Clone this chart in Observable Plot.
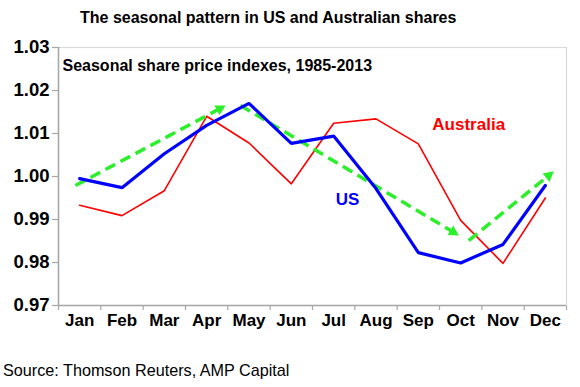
<!DOCTYPE html>
<html>
<head>
<meta charset="utf-8">
<script src="https://cdn.jsdelivr.net/npm/d3@7"></script>
<script src="https://cdn.jsdelivr.net/npm/@observablehq/plot@0.6"></script>
<style>
  html, body { margin: 0; padding: 0; background: #fff; }
  #chart { position: relative; width: 580px; height: 387px; overflow: hidden; background: #fff;
           font-family: "Liberation Sans", Arial, sans-serif; }
  #title { position: absolute; left: 80px; top: 8px; font-weight: bold; font-size: 16px;
           line-height: 20px; color: #000; white-space: nowrap; }
  #plot { position: absolute; left: 0; top: 32px; }
  #source { position: absolute; left: 3px; top: 360px; font-size: 16.2px; line-height: 20px;
            color: #000; white-space: nowrap; }
  #plot svg [aria-label^="y-axis"] text { font: bold 18.5px "Liberation Sans", Arial, sans-serif; fill: #000; }
  #plot svg [aria-label^="y-axis"] line, #plot svg [aria-label^="y-axis"] path { stroke: #a6a6a6; stroke-width: 1.2; }
  #plot svg [aria-label^="x-axis"] line, #plot svg [aria-label^="x-axis"] path { stroke: #a6a6a6; stroke-width: 1.2; }
</style>
</head>
<body>
<div id="chart">
  <div id="title">The seasonal pattern in US and Australian shares</div>
  <div id="plot"></div>
  <div id="source">Source: Thomson Reuters, AMP Capital</div>
</div>
<script>
// Seasonal share price indexes, 1985-2013 (1.00 = average month)
const months = ["Jan", "Feb", "Mar", "Apr", "May", "Jun", "Jul", "Aug", "Sep", "Oct", "Nov", "Dec"];
const usIndex = [0.9995, 0.9974, 1.0053, 1.0119, 1.0170, 1.0077, 1.0094, 0.9972, 0.9823, 0.9799, 0.9842, 0.9979];
const australiaIndex = [0.9933, 0.9909, 0.9967, 1.0140, 1.0078, 0.9983, 1.0124, 1.0134, 1.0076, 0.9898, 0.9798, 0.9950];
const yTicks = [0.97, 0.98, 0.99, 1.00, 1.01, 1.02, 1.03];

// Trend arrows (month position, index level): rise to May, fall to October, rebound to year end
const trendStartMonth = [-0.10, 3.80, 9.19];
const trendStartValue = [0.9979, 1.0165, 0.9851];
const trendEndMonth = [3.45, 8.96, 11.20];
const trendEndValue = [1.0165, 0.9863, 1.0012];

// Series name labels (month position, index level)
const seriesNames = ["Australia", "US"];
const seriesNameMonth = [9.19, 6.33];
const seriesNameValue = [1.0121, 0.99465];

const BLUE = "#0000ff", RED = "#ff0000", GREEN = "#2bef2b";

const us = months.map((m, i) => ({month: i, value: usIndex[i]}));
const australia = months.map((m, i) => ({month: i, value: australiaIndex[i]}));
const arrows = trendStartMonth.map((m, i) => ({
  x1: m, y1: trendStartValue[i], x2: trendEndMonth[i], y2: trendEndValue[i]
}));
const names = seriesNames.map((t, i) => ({text: t, month: seriesNameMonth[i], value: seriesNameValue[i], color: i === 0 ? RED : BLUE}));
const boundaries = d3.range(13).map(i => i - 0.5);

function build(links, heads) {
  return Plot.plot({
    width: 580,
    height: 320,
    marginTop: 15,
    marginBottom: 47,
    marginLeft: 58,
    marginRight: 14,
    style: {background: "white", fontFamily: "Liberation Sans, Arial, sans-serif", overflow: "visible"},
    x: {type: "linear", domain: [-0.5, 11.5], ticks: boundaries, tickFormat: () => "", tickSize: 5, label: null},
    y: {domain: [0.97, 1.03], ticks: yTicks, tickFormat: d3.format(".2f"), tickSize: 6, tickPadding: 3, label: null},
    marks: [
      Plot.frame({stroke: "#d9d9d9", strokeWidth: 1.2}),
      Plot.ruleX([-0.5], {stroke: "#a6a6a6", strokeWidth: 1.5}),
      Plot.ruleY([0.97], {stroke: "#a6a6a6", strokeWidth: 1.5}),
      Plot.text(months, {x: (d, i) => i, frameAnchor: "bottom", dy: 20, text: d => d,
        fontSize: 17, fontWeight: "bold", fill: "#000"}),
      Plot.text(["Seasonal share price indexes, 1985-2013"], {frameAnchor: "top-left", dx: 4, dy: 12,
        text: d => d, textAnchor: "start", lineAnchor: "top", fontSize: 16, fontWeight: "bold", fill: "#000"}),
      Plot.line(australia, {x: "month", y: "value", stroke: RED, strokeWidth: 1.6}),
      Plot.link(links, {x1: "x1", y1: "y1", x2: "x2", y2: "y2", stroke: GREEN, strokeWidth: 3.5,
        strokeDasharray: "11,6"}),
      Plot.line(heads, {x: "month", y: "value", z: "arrow", fill: GREEN, stroke: "none"}),
      Plot.line(us, {x: "month", y: "value", stroke: BLUE, strokeWidth: 3.2, strokeLinejoin: "miter"}),
      Plot.text(names, {x: "month", y: "value", text: "text", fill: "color", fontSize: 17, fontWeight: "bold"})
    ]
  });
}

// First pass gives the scales; arrowheads are laid out in screen space and mapped back to data.
const probe = build([], []);
const sx = probe.scale("x"), sy = probe.scale("y");
const px = d3.scaleLinear(sx.domain, sx.range);
const py = d3.scaleLinear(sy.domain, sy.range);

const HEAD_LEN = 10, HEAD_HALF = 5.5;
const links = [], heads = [];
arrows.forEach((a, k) => {
  const x0 = px(a.x1), y0 = py(a.y1), x1 = px(a.x2), y1 = py(a.y2);
  const len = Math.hypot(x1 - x0, y1 - y0);
  const ux = (x1 - x0) / len, uy = (y1 - y0) / len;
  const nx = -uy, ny = ux;
  const bx = x1 - ux * HEAD_LEN, by = y1 - uy * HEAD_LEN;
  links.push({x1: a.x1, y1: a.y1, x2: px.invert(bx + ux * 2), y2: py.invert(by + uy * 2)});
  [[x1, y1], [bx + nx * HEAD_HALF, by + ny * HEAD_HALF], [bx - nx * HEAD_HALF, by - ny * HEAD_HALF], [x1, y1]]
    .forEach(([x, y]) => heads.push({arrow: k, month: px.invert(x), value: py.invert(y)}));
});

document.getElementById("plot").appendChild(build(links, heads));
</script>
</body>
</html>
